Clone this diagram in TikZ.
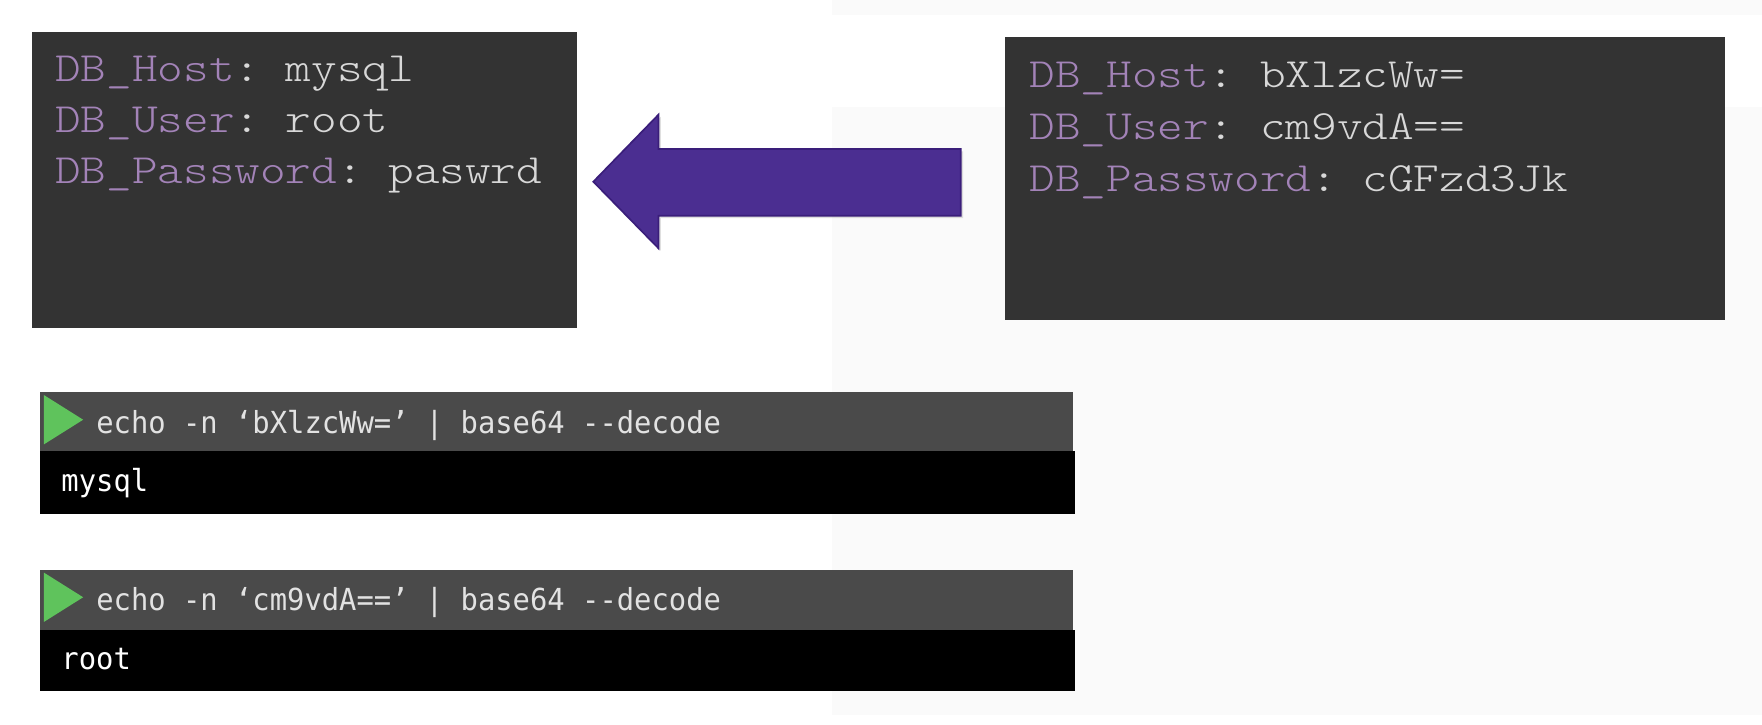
\documentclass[tikz,border=0pt]{standalone}
\usepackage{fontspec}
\newfontfamily\courfont{lmmonolt10-regular.otf}
\newfontfamily\termfont{DejaVu Sans Mono}
\usetikzlibrary{shadows}
\frenchspacing
\definecolor{boxbg}{HTML}{333333}
\definecolor{keyc}{HTML}{A383B8}
\definecolor{valc}{HTML}{D8D8D8}
\definecolor{hdrbg}{HTML}{4A4A4A}
\definecolor{hdrtxt}{HTML}{E2E2E2}
\definecolor{playg}{HTML}{5FC35C}
\definecolor{arrowfill}{HTML}{4B2E91}
\definecolor{arrowdraw}{HTML}{3A1E7A}
\definecolor{faintbg}{HTML}{FAFAFA}
\newcommand{\kv}[2]{\scalebox{1.174}[1]{\textcolor{keyc}{#1}\textcolor{valc}{: #2}}}
\newcommand{\dd}{-\kern0pt-}
\begin{document}
\begin{tikzpicture}[x=1pt,y=-1pt,
  codebox/.style={fill=boxbg, draw=none, inner sep=0pt, anchor=north west},
  codeline/.style={anchor=base west, inner sep=0pt, font=\courfont\fontsize{37}{37}\selectfont},
  hdrbar/.style={fill=hdrbg, draw=none, inner sep=0pt, anchor=north west, minimum width=920pt, minimum height=52pt},
  outbar/.style={fill=black, draw=none, inner sep=0pt, anchor=north west, minimum width=921pt},
  hdrtext/.style={anchor=base west, inner sep=0pt, text=hdrtxt, font=\termfont\fontsize{27}{27}\selectfont},
  outtext/.style={anchor=base west, inner sep=0pt, text=white, font=\termfont\fontsize{27}{27}\selectfont},
  playbtn/.style={fill=playg, draw=none}
]
\useasboundingbox (0,0) rectangle (1568,644.3);
\fill[white] (0,0) rectangle (1568,644.3);
% faint background regions
\fill[faintbg] (740,95) rectangle (1568,636);
\fill[faintbg] (740,0) rectangle (1568,13);

% left (decoded) box
\node[codebox, minimum width=485pt, minimum height=264pt] (leftbox) at (28,28) {};
\node[codeline] (l1) at (49,72.5) {\kv{DB\_Host}{mysql}};
\node[codeline] (l2) at (49,118) {\kv{DB\_User}{root}};
\node[codeline] (l3) at (49,163.5) {\kv{DB\_Password}{paswrd}};

% right (encoded) box
\node[codebox, minimum width=640pt, minimum height=252pt] (rightbox) at (894.5,33) {};
\node[codeline] (r1) at (916,77.5) {\kv{DB\_Host}{bXlzcWw=}};
\node[codeline] (r2) at (916,124) {\kv{DB\_User}{cm9vdA==}};
\node[codeline] (r3) at (916,170.5) {\kv{DB\_Password}{cGFzd3Jk}};

% block arrow
\filldraw[fill=arrowfill, draw=arrowdraw, line width=1.5pt, line join=miter,
  drop shadow={shadow xshift=2pt, shadow yshift=-2pt, opacity=0.25}]
  (528,161.7) -- (586,102) -- (586,132.6) -- (855,132.6) -- (855,192)
  -- (586,192) -- (586,221) -- cycle;

% terminal 1
\node[hdrbar] (h1) at (35,349) {};
\node[outbar, minimum height=56pt] (o1) at (35,401) {};
\fill[playbtn] (39,351.5) -- (74,373.5) -- (39,395.5) -- cycle;
\node[hdrtext] (c1) at (85.5,385.5) {\scalebox{0.95}[1]{echo -n ‘bXlzcWw=’ | base64 \dd decode}};
\node[outtext] (m1) at (54.5,437.5) {\scalebox{0.95}[1]{mysql}};

% terminal 2
\node[hdrbar, minimum height=53pt] (h2) at (35,507) {};
\node[outbar, minimum height=55pt] (o2) at (35,560) {};
\fill[playbtn] (39,509.5) -- (74,531.5) -- (39,553.5) -- cycle;
\node[hdrtext] (c2) at (85.5,543.5) {\scalebox{0.95}[1]{echo -n ‘cm9vdA==’ | base64 \dd decode}};
\node[outtext] (m2) at (54.5,596) {\scalebox{0.95}[1]{root}};
\end{tikzpicture}
\end{document}
